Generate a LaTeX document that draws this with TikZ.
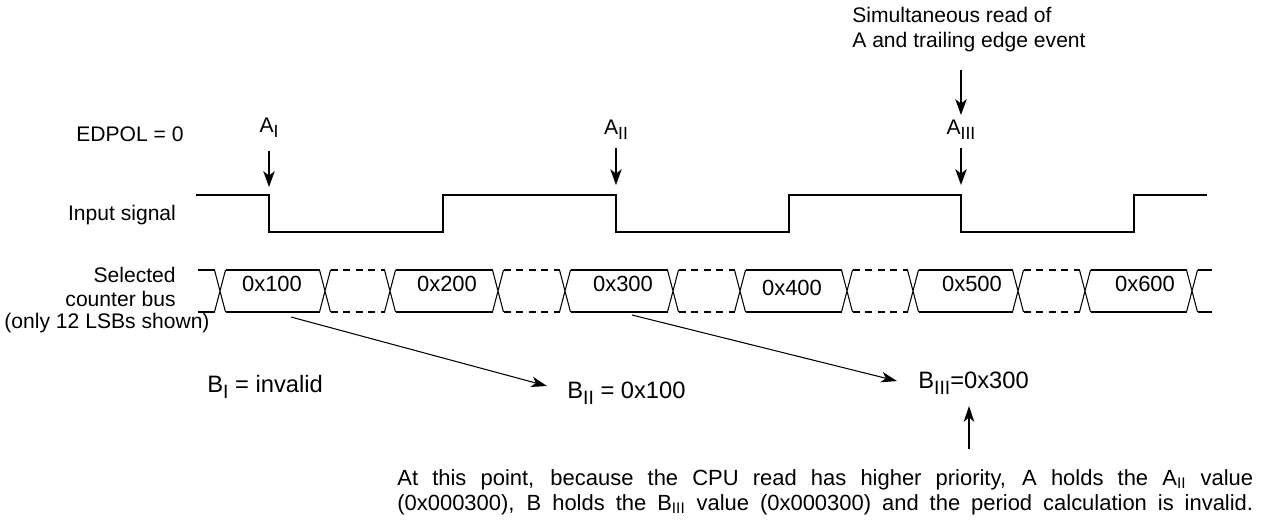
\documentclass[tikz,border=0pt]{standalone}
\usepackage{fontspec}
\setmainfont{Liberation Sans}
\usetikzlibrary{arrows.meta}
% lowered, fairly large subscript used in the signal labels
\newcommand\sbs[2][10]{\raisebox{-0.45ex}{\fontsize{#1}{#1}\selectfont #2}}
\begin{document}
\begin{tikzpicture}[x=0.02cm,y=-0.02cm,
  lbl/.style={font=\fontsize{12}{14}\selectfont, inner sep=0pt},
  vallbl/.style={font=\fontsize{12.5}{14}\selectfont, inner sep=0pt},
  reslbl/.style={font=\fontsize{13.5}{15}\selectfont, inner sep=0pt, anchor=west},
  sigline/.style={line width=1.1pt},
  busline/.style={line width=0.6pt},
  busdash/.style={busline, dash pattern=on 4pt off 3.2pt},
  tipA/.style={line width=0.9pt, -{Stealth[length=9pt,width=6.5pt,inset=2.5pt]}},
  tipB/.style={line width=0.6pt, -{Stealth[length=9pt,width=6pt,inset=2.5pt]}},
  notetext/.style={font=\fontsize{12.5}{14}\selectfont, inner sep=0pt, anchor=base west}]
\useasboundingbox (0,0) rectangle (1269,522);

% ---- row labels ----
\node[lbl] (edpol) at (130,134) {EDPOL = 0};
\node[lbl] (insig) at (122,215) {Input signal};
\node[lbl, align=right, anchor=east] (selbus) at (176,287) {Selected\\counter bus};
\node[lbl] (lsbs) at (107,323) {(only 12 LSBs shown)};

% ---- input signal ----
\coordinate (s0) at (196,195);
\coordinate (e1) at (269,195);
\coordinate (e2) at (443,195);
\coordinate (e3) at (616,195);
\coordinate (e4) at (789,195);
\coordinate (e5) at (961,195);
\coordinate (e6) at (1134,195);
\coordinate (s1) at (1207,195);
\draw[sigline] (s0) -- (e1) -- ++(0,37) -| (e2) -- (e3) -- ++(0,37) -| (e4)
  -- (e5) -- ++(0,37) -| (e6) -- (s1);

% ---- capture events ----
\node[lbl] (aI) at (269,128) {A\sbs{I}};
\node[lbl] (aII) at (616,130) {A\sbs{II}};
\node[lbl] (aIII) at (961,130) {A\sbs{III}};
\coordinate (aIa) at (269,151);  \coordinate (aIb) at (269,187);
\coordinate (aIIa) at (616,148); \coordinate (aIIb) at (616,185);
\coordinate (aIIIa) at (961,148); \coordinate (aIIIb) at (961,185);
\draw[tipA] (aIa) -- (aIb);
\draw[tipA] (aIIa) -- (aIIb);
\draw[tipA] (aIIIa) -- (aIIIb);

\node[lbl, align=left, anchor=north west] (simul) at (852,7)
  {Simultaneous read of\\A and trailing edge event};
\coordinate (sra) at (961,70); \coordinate (srb) at (961,115);
\draw[tipA] (sra) -- (srb);

% ---- selected counter bus ----
\def\bt{270}\def\bb{312}\def\h{5.5}
\foreach \c in {220,325,390,498,565,673,740,847,913,1018,1085,1192}
  \draw[busline] (\c-\h,\bt) -- (\c+\h,\bb) (\c-\h,\bb) -- (\c+\h,\bt);
\foreach \a/\b in {220/325,390/498,565/673,740/847,913/1018,1085/1192}
  \draw[busline] (\a+\h,\bt) -- (\b-\h,\bt) (\a+\h,\bb) -- (\b-\h,\bb);
\foreach \a/\b in {325/390,498/565,673/740,847/913,1018/1085}
  \draw[busdash] (\a+\h,\bt) -- (\b-\h,\bt) (\a+\h,\bb) -- (\b-\h,\bb);
\draw[busline] (198,\bt) -- (220-\h,\bt) (198,\bb) -- (220-\h,\bb);
\draw[busline] (1192+\h,\bt) -- (1212,\bt) (1192+\h,\bb) -- (1212,\bb);

\node[vallbl] (v1) at (272,284) {0x100};
\node[vallbl] (v2) at (447,284) {0x200};
\node[vallbl] (v3) at (623,284) {0x300};
\node[vallbl] (v4) at (792,288) {0x400};
\node[vallbl] (v5) at (972,284) {0x500};
\node[vallbl] (v6) at (1145,284) {0x600};

% ---- B register results ----
\node[reslbl] (bI) at (207,387) {B\sbs[11]{I} = invalid};
\node[reslbl] (bII) at (567,393) {B\sbs[11]{II} = 0x100};
\node[reslbl] (bIII) at (918,383) {B\sbs[11]{III}=0x300};
\coordinate (c1a) at (291,317); \coordinate (c1b) at (547,386);
\coordinate (c2a) at (632,315); \coordinate (c2b) at (897,381);
\draw[tipB] (c1a) -- (c1b);
\draw[tipB] (c2a) -- (c2b);

% ---- note ----
\coordinate (upa) at (969,449); \coordinate (upb) at (969,406);
\draw[tipB] (upa) -- (upb);
\node[notetext] (n1) at (397,485)
  {\makebox[17.12cm][s]{At this point, because the CPU read has higher priority, A holds the A$_{\mathrm{II}}$ value}};
\node[notetext] (n2) at (397,510)
  {\makebox[17.12cm][s]{(0x000300), B holds the B$_{\mathrm{III}}$ value (0x000300) and the period calculation is invalid.}};
\end{tikzpicture}
\end{document}
